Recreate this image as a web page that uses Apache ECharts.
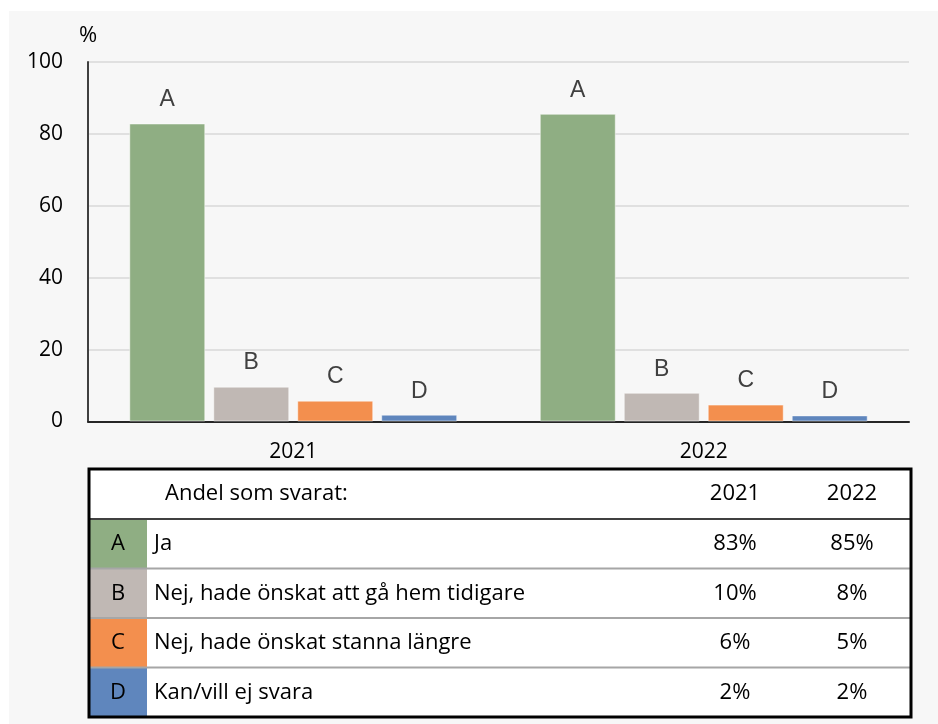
<!DOCTYPE html>
<html>
<head>
<meta charset="utf-8">
<script src="https://cdn.jsdelivr.net/npm/echarts@6/dist/echarts.min.js"></script>
<style>
  html, body { margin: 0; padding: 0; background: #ffffff; }
  #chart { width: 938px; height: 724px; }
</style>
</head>
<body>
<div id="chart"></div>
<script>
// data
const years = ['2021', '2022'];
const letters = ['A', 'B', 'C', 'D'];
const answers = [
  'Ja',
  'Nej, hade önskat att gå hem tidigare',
  'Nej, hade önskat stanna längre',
  'Kan/vill ej svara'
];
const valuesA = [82.9, 85.6];
const valuesB = [9.7, 8.0];
const valuesC = [5.8, 4.7];
const valuesD = [1.9, 1.7];
const tablePct2021 = ['83%', '10%', '6%', '2%'];
const tablePct2022 = ['85%', '8%', '5%', '2%'];
const tableHeader = 'Andel som svarat:';

const colors = ['#8fae83', '#c0b8b4', '#f38f4e', '#5f86bd'];
const font = '"Open Sans", Lato, sans-serif';
const txt = '22px ' + font;

const chart = echarts.init(document.getElementById('chart'));

// table made from the arrays above
const tbl = { left: 89, right: 911, top: 469, headH: 50, rowH: 49.5, keyW: 58, textX: 154, col1: 735, col2: 852 };
const tableGraphics = [];
const tblH = tbl.headH + tbl.rowH * letters.length;
tableGraphics.push({
  type: 'rect', silent: true, z: 1,
  shape: { x: tbl.left, y: tbl.top, width: tbl.right - tbl.left, height: tblH },
  style: { fill: '#ffffff' }
});
tableGraphics.push({
  type: 'text', z: 3,
  style: { x: 165, y: tbl.top + tbl.headH / 2, text: tableHeader, fill: '#000', font: txt, verticalAlign: 'middle' }
});
years.forEach((y, i) => {
  tableGraphics.push({
    type: 'text', z: 3,
    style: { x: i === 0 ? tbl.col1 : tbl.col2, y: tbl.top + tbl.headH / 2, text: y, fill: '#000', font: txt, align: 'center', verticalAlign: 'middle' }
  });
});
letters.forEach((l, i) => {
  const y0 = tbl.top + tbl.headH + i * tbl.rowH;
  const yc = y0 + tbl.rowH / 2;
  tableGraphics.push({
    type: 'rect', silent: true, z: 2,
    shape: { x: tbl.left, y: y0, width: tbl.keyW, height: tbl.rowH },
    style: { fill: colors[i] }
  });
  tableGraphics.push({
    type: 'line', silent: true, z: 4,
    shape: { x1: tbl.left, y1: y0, x2: tbl.right, y2: y0 },
    style: { stroke: i === 0 ? '#404040' : '#a6a6a6', lineWidth: 2 }
  });
  tableGraphics.push({
    type: 'text', z: 3,
    style: { x: tbl.left + tbl.keyW / 2, y: yc, text: l, fill: '#000', font: txt, align: 'center', verticalAlign: 'middle' }
  });
  tableGraphics.push({
    type: 'text', z: 3,
    style: { x: tbl.textX, y: yc, text: answers[i], fill: '#000', font: txt, verticalAlign: 'middle' }
  });
  tableGraphics.push({
    type: 'text', z: 3,
    style: { x: tbl.col1, y: yc, text: tablePct2021[i], fill: '#000', font: txt, align: 'center', verticalAlign: 'middle' }
  });
  tableGraphics.push({
    type: 'text', z: 3,
    style: { x: tbl.col2, y: yc, text: tablePct2022[i], fill: '#000', font: txt, align: 'center', verticalAlign: 'middle' }
  });
});
tableGraphics.push({
  type: 'rect', silent: true, z: 5,
  shape: { x: tbl.left, y: tbl.top, width: tbl.right - tbl.left, height: tblH },
  style: { fill: 'none', stroke: '#000', lineWidth: 3 }
});

const seriesValues = [valuesA, valuesB, valuesC, valuesD];

const option = {
  animation: false,
  graphic: [
    {
      type: 'rect', silent: true, z: -10,
      shape: { x: 9, y: 11, width: 929, height: 713 },
      style: { fill: '#f7f7f7' }
    },
    {
      type: 'text', z: 3,
      style: { x: 88, y: 36, text: '%', fill: '#000', font: '22px ' + font, align: 'center', verticalAlign: 'middle' }
    }
  ].concat(tableGraphics),
  grid: { left: 88, right: 29, top: 62, bottom: 302.5 },
  xAxis: {
    type: 'category',
    data: years,
    axisLine: { lineStyle: { color: '#262626', width: 2 } },
    axisTick: { show: false },
    axisLabel: { color: '#000', fontSize: 21, fontFamily: font, margin: 20 }
  },
  yAxis: {
    type: 'value',
    min: 0, max: 100, interval: 20,
    axisLine: { show: true, lineStyle: { color: '#404040', width: 2 } },
    axisTick: { show: false },
    splitLine: { lineStyle: { color: '#d9d9d9', width: 1.5 } },
    axisLabel: { color: '#000', fontSize: 21, fontFamily: font, margin: 25 }
  },
  series: letters.map((l, i) => ({
    name: l,
    type: 'bar',
    data: seriesValues[i],
    barWidth: 76,
    barGap: '10.5%',
    itemStyle: { color: colors[i], borderColor: 'rgba(255,255,255,0.5)', borderWidth: 1 },
    label: {
      show: true, position: 'top', distance: 12,
      formatter: l, color: '#404040', fontSize: 23, fontFamily: '"Liberation Sans", Arial, sans-serif'
    }
  }))
};

chart.setOption(option);
</script>
</body>
</html>
